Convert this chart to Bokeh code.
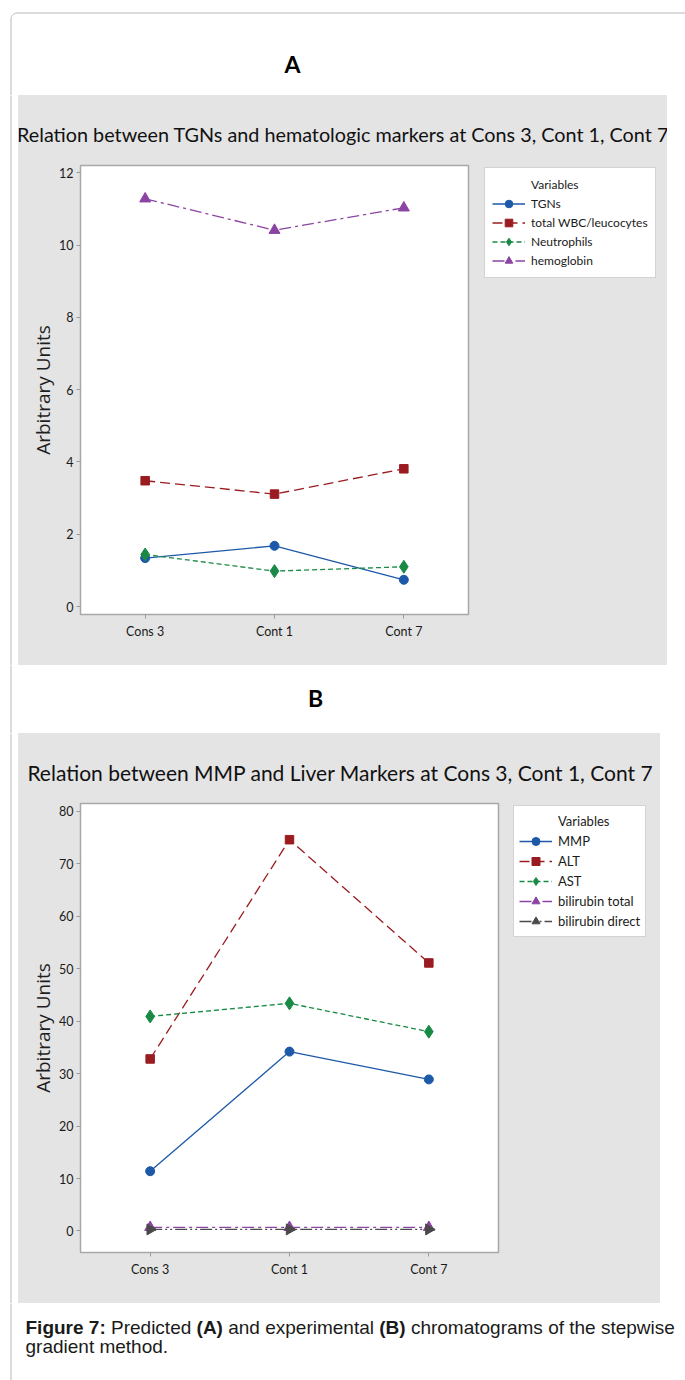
import numpy as np
from bokeh.plotting import figure
from bokeh.models import Range1d, FactorRange, Legend, LegendItem, Spacer
from bokeh.layouts import column, row
from bokeh.core.properties import value
from bokeh.embed import file_html
from bokeh.resources import INLINE

# ---------------- data ----------------
categories = ["Cons 3", "Cont 1", "Cont 7"]

tgns = [1.34, 1.68, 0.74]
wbc = [3.48, 3.11, 3.81]
neutrophils = [1.44, 0.98, 1.10]
hemoglobin = [11.28, 10.41, 11.03]

mmp = [11.4, 34.2, 28.9]
alt = [32.8, 74.6, 51.1]
ast = [40.9, 43.4, 38.0]
bili_total = [0.7, 0.7, 0.7]
bili_direct = [0.3, 0.3, 0.3]

yticks_a = [0, 2, 4, 6, 8, 10, 12]
yticks_b = [0, 10, 20, 30, 40, 50, 60, 70, 80]

names_a = ["TGNs", "total WBC/leucocytes", "Neutrophils", "hemoglobin"]
names_b = ["MMP", "ALT", "AST", "bilirubin total", "bilirubin direct"]

title_a = "Relation between TGNs and hematologic markers at Cons 3, Cont 1, Cont 7"
title_b = "Relation between MMP and Liver Markers at Cons 3, Cont 1, Cont 7"
y_label = "Arbitrary Units"
legend_head = "Variables"
label_a = "A"
label_b = "B"

# ---------------- styles ----------------
CF = "Lato"
BLUE = "#1d59a8"
RED = "#9a1c20"
GREEN = "#198a45"
PURPLE = "#8b44a3"
DGRAY = "#4a4a4a"
PANEL = "#e4e4e4"
FRAME = "#a8a8a8"
BORDER = "#b8b8b8"

style_a = [
    dict(color=BLUE, dash="solid", marker="circle", size=9, angle=0.0),
    dict(color=RED, dash="10 5", marker="square", size=8.5, angle=0.0),
    dict(color=GREEN, dash="5 3", marker="diamond", size=13, angle=0.0),
    dict(color=PURPLE, dash="12 4 3 4", marker="triangle", size=11, angle=0.0),
]
style_b = style_a + [
    dict(color=DGRAY, dash="12 3 2 3 2 3", marker="triangle", size=11, angle=-np.pi / 2),
]


def pix_fig(w, h, bg):
    p = figure(width=w, height=h, x_range=Range1d(0, w), y_range=Range1d(h, 0),
               output_backend="svg", toolbar_location=None,
               x_axis_location=None, y_axis_location=None, min_border=0)
    p.outline_line_color = None
    p.background_fill_color = bg
    p.border_fill_color = bg
    p.grid.grid_line_color = None
    return p


def make_panel(width, plot_w, frame_right, title, title_size, title_x, title_y,
               names, series, styles, y_start, y_end, yticks, pad, row_h, lab_size):
    # title strip
    tf = pix_fig(width, 68, PANEL)
    tf.text(x=[title_x], y=[title_y], text=[title], text_align="center",
            text_baseline="middle", text_font=value(CF),
            text_font_size=title_size, text_color="#111111")

    # plot
    p = figure(width=plot_w, height=502, x_range=FactorRange(*categories),
               y_range=Range1d(y_start, y_end), output_backend="svg",
               toolbar_location=None, min_border_left=62,
               min_border_right=plot_w - frame_right, min_border_top=2,
               min_border_bottom=51)
    p.background_fill_color = "white"
    p.border_fill_color = PANEL
    p.outline_line_color = FRAME
    p.outline_line_width = 1.5
    p.grid.grid_line_color = None
    for ax in (p.xaxis, p.yaxis):
        ax.axis_line_color = None
        ax.major_tick_line_color = "#9a9a9a"
        ax.major_tick_line_width = 1
        ax.major_tick_out = 4
        ax.major_tick_in = 0
        ax.minor_tick_line_color = None
        ax.major_label_text_font = CF
        ax.major_label_text_font_size = "12.5px"
        ax.major_label_text_color = "#1a1a1a"
    p.xaxis.major_label_standoff = 5
    p.yaxis.major_label_standoff = 3
    p.yaxis.ticker = yticks
    p.yaxis.axis_label = y_label
    p.yaxis.axis_label_text_font = "Open Sans"
    p.yaxis.axis_label_text_font_size = "19px"
    p.yaxis.axis_label_text_font_style = "normal"
    p.yaxis.axis_label_text_color = "#1e1e1e"
    p.yaxis.axis_label_standoff = 0

    # legend holder: same series drawn on a y range that keeps them out of view,
    # so only the legend (with its glyph samples) is visible
    lw = width - plot_w
    lf = figure(width=lw, height=502, x_range=FactorRange(*categories),
                y_range=Range1d(1000, 1001),
                output_backend="svg", toolbar_location=None,
                x_axis_location=None, y_axis_location=None, min_border=0)
    lf.outline_line_color = None
    lf.background_fill_color = PANEL
    lf.border_fill_color = PANEL
    lf.grid.grid_line_color = None

    dummy = lf.line(categories, series[0], line_alpha=0)
    items = [LegendItem(label=legend_head, renderers=[dummy])]
    for name, vals, st in zip(names, series, styles):
        p.line(categories, vals, line_color=st["color"], line_width=1.3,
               line_dash=st["dash"])
        p.scatter(categories, vals, marker=st["marker"], size=st["size"],
                  angle=st["angle"], fill_color=st["color"], line_color=st["color"])
        ll = lf.line(categories, vals, line_color=st["color"], line_width=1.3,
                     line_dash=st["dash"])
        lm = lf.scatter(categories, vals, marker=st["marker"], size=st["size"],
                        angle=st["angle"], fill_color=st["color"],
                        line_color=st["color"])
        items.append(LegendItem(label=name, renderers=[ll, lm]))

    legend = Legend(items=items, location="top_left", margin=2,
                    padding=pad, spacing=0, glyph_width=33, glyph_height=row_h,
                    label_height=row_h, label_standoff=6,
                    label_text_font=CF, label_text_font_size=lab_size,
                    label_text_color="#1a1a1a",
                    border_line_color=FRAME, border_line_width=1.5,
                    background_fill_color="white", background_fill_alpha=1.0)
    lf.add_layout(legend)
    bg = {"background-color": PANEL}
    return column(tf, row(p, lf, styles=bg), styles=bg)


# page layout (page has no margin)
W = 685

head_a = pix_fig(W, 95, "white")
r = 6.0
th = np.linspace(np.pi, np.pi / 2, 12)
cx, cy = 10.5 + r, 12.5 + r
bx = [10.5] + list(cx + r * np.cos(th)) + [W]
by = [95] + list(cy - r * np.sin(th)) + [12.5]
head_a.line(bx, by, line_color=BORDER, line_width=1)
head_a.text(x=[292], y=[63], text=[label_a], text_align="center",
            text_baseline="middle", text_font=value(CF),
            text_font_style="bold", text_font_size="23px", text_color="black")


def strip(h):
    s = pix_fig(18, h, "white")
    s.line([10.5, 10.5], [0, h], line_color=BORDER, line_width=1)
    return s


panel_a = make_panel(649, 464, 450, title_a, "19.8px", 324.5, 38, names_a,
                     [tgns, wbc, neutrophils, hemoglobin], style_a,
                     -0.22, 12.2, yticks_a, 7, 19, "12px")
panel_b = make_panel(642, 493, 480, title_b, "21px", 322, 39, names_b,
                     [mmp, alt, ast, bili_total, bili_direct], style_b,
                     -4.1, 81.5, yticks_b, 5, 20, "13px")

head_b = pix_fig(W, 68, "white")
head_b.line([10.5, 10.5], [0, 68], line_color=BORDER, line_width=1)
head_b.text(x=[315], y=[32], text=[label_b], text_align="center",
            text_baseline="middle", text_font=value(CF),
            text_font_style="bold", text_font_size="23px", text_color="black")

# caption with mixed bold / regular segments (Arial metrics)
REG = {' ': 278, 'P': 667, 'r': 333, 'e': 556, 'd': 556, 'i': 222, 'c': 500,
       't': 278, 'a': 556, 'n': 556, 'x': 500, 'p': 556, 'm': 833, 'l': 222,
       'h': 556, 'o': 556, 'g': 556, 's': 500, 'f': 278, 'w': 722, '.': 278}
BOLD = {'F': 611, 'i': 278, 'g': 611, 'u': 611, 'r': 389, 'e': 556, ' ': 278,
        '7': 556, ':': 333, '(': 333, 'A': 722, ')': 333, 'B': 722}
cap_segments = [("Figure 7:", True), (" Predicted ", False), ("(A)", True),
                (" and experimental ", False), ("(B)", True),
                (" chromatograms of the stepwise", False)]
cap_line2 = "gradient method."
CAP_SIZE = 19.0
CAP_X = 25.0

cap = pix_fig(W, 77, "white")
cap.line([10.5, 10.5], [0, 77], line_color=BORDER, line_width=1)
xpos = CAP_X
for txt, bold in cap_segments:
    table = BOLD if bold else REG
    lead = len(txt) - len(txt.lstrip(' '))
    xpos += lead * table[' '] * CAP_SIZE / 1000
    core = txt.strip(' ')
    cap.text(x=[xpos], y=[24], text=[core], text_align="left",
             text_baseline="alphabetic", text_font=value("Liberation Sans"),
             text_font_style="bold" if bold else "normal",
             text_font_size=f"{CAP_SIZE}px", text_color="#1a1a1a")
    xpos += sum(table[ch] for ch in core) * CAP_SIZE / 1000
    trail = len(txt) - len(txt.rstrip(' '))
    xpos += trail * table[' '] * CAP_SIZE / 1000
cap.text(x=[CAP_X], y=[43], text=[cap_line2], text_align="left",
         text_baseline="alphabetic", text_font=value("Liberation Sans"),
         text_font_size=f"{CAP_SIZE}px", text_color="#1a1a1a")

layout = column(
    head_a,
    row(strip(570), panel_a, Spacer(width=18, height=570)),
    head_b,
    row(strip(570), panel_b, Spacer(width=25, height=570)),
    cap,
)

open("out.html", "w").write(file_html(layout, INLINE))
